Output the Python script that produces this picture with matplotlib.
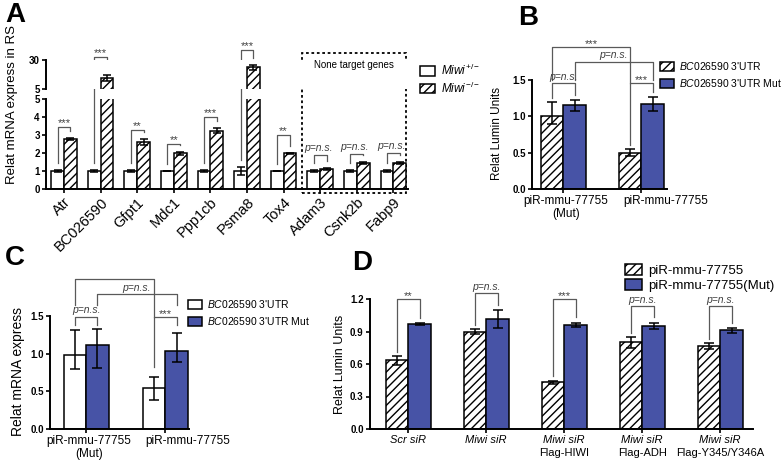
import numpy as np
import matplotlib
matplotlib.use("Agg")
import matplotlib.pyplot as plt
import matplotlib.transforms as mtrans
from matplotlib.patches import Patch, Rectangle

plt.rcParams["font.family"] = ["Liberation Sans", "DejaVu Sans"]
plt.rcParams["mathtext.fontset"] = "custom"
plt.rcParams["mathtext.rm"] = "Liberation Sans"
plt.rcParams["mathtext.it"] = "Liberation Sans:italic"
plt.rcParams["hatch.linewidth"] = 1.0

BLUE = "#4753a6"
GREY = "0.35"
HATCH = "////"

# ---- panel A data
genes = ["Atr", "BC026590", "Gfpt1", "Mdc1", "Ppp1cb", "Psma8", "Tox4",
         "Adam3", "Csnk2b", "Fabp9"]
het = [1.0, 1.0, 1.0, 1.0, 1.0, 1.0, 1.0, 1.0, 1.0, 1.0]
het_err = [0.03, 0.06, 0.06, 0.02, 0.06, 0.22, 0.02, 0.03, 0.03, 0.03]
ko = [2.8, 14.5, 2.62, 1.98, 3.25, 23.8, 1.98, 1.1, 1.45, 1.45]
ko_err = [0.05, 2.5, 0.18, 0.1, 0.12, 2.0, 0.02, 0.05, 0.04, 0.06]
sig_a = ["***", "***", "**", "**", "***", "***", "**",
         "p=n.s.", "p=n.s.", "p=n.s."]
top_a = [3.45, 32.6, 3.3, 2.5, 4.0, 38.5, 3.0, 1.9, 1.93, 1.98]

# ---- panel B data
b_groups = ["piR-mmu-77755\n(Mut)", "piR-mmu-77755"]
b_utr = [1.0, 0.5]
b_utr_err = [[0.11, 0.05], [0.2, 0.05]]
b_mut = [1.16, 1.17]
b_mut_err = [[0.09, 0.1], [0.07, 0.1]]

# ---- panel C data
c_groups = ["piR-mmu-77755\n(Mut)", "piR-mmu-77755"]
c_utr = [0.98, 0.55]
c_utr_err = [[0.19, 0.16], [0.33, 0.14]]
c_mut = [1.12, 1.03]
c_mut_err = [[0.31, 0.14], [0.21, 0.25]]

# ---- panel D data
d_first = ["Scr siR", "Miwi siR", "Miwi siR", "Miwi siR", "Miwi siR"]
d_second = ["", "", "Flag-HIWI", "Flag-ADH", "Flag-Y345/Y346A"]
d_wt = [0.635, 0.9, 0.43, 0.80, 0.765]
d_wt_err = [0.04, 0.02, 0.015, 0.05, 0.025]
d_mut = [0.967, 1.015, 0.96, 0.95, 0.91]
d_mut_err = [0.007, 0.08, 0.02, 0.03, 0.02]
sig_d = ["**", "p=n.s.", "***", "p=n.s.", "p=n.s."]
top_d = [1.20, 1.255, 1.20, 1.135, 1.135]

W, H = 784, 462
fig = plt.figure(figsize=(W / 100, H / 100), dpi=100)


def px_axes(l, t, r, b):
    return fig.add_axes([l / W, 1 - b / H, (r - l) / W, (b - t) / H])


def style(ax, ysize=7):
    for s in ["top", "right"]:
        ax.spines[s].set_visible(False)
    for s in ["left", "bottom"]:
        ax.spines[s].set_linewidth(1.4)
    ax.tick_params(width=1.2, length=3, pad=1.5)
    ax.tick_params(axis="y", labelsize=ysize)
    plt.setp(ax.get_yticklabels(), fontweight="bold")


def shift_labels(ax, offsets):
    # nudge tick labels sideways (pixels), as the original layout does
    for lab, dx in zip(ax.get_xticklabels(), offsets):
        lab.set_transform(lab.get_transform() +
                          mtrans.ScaledTranslation(dx / 100, 0, fig.dpi_scale_trans))


def bracket(ax, x1, x2, top, b1, b2, label=None, fs=7.5):
    ax.plot([x1, x1, x2, x2], [b1, top, top, b2], color=GREY, lw=0.9,
            clip_on=False)
    if label:
        italic = label.startswith("p")
        ax.annotate(label, ((x1 + x2) / 2, top), xytext=(0, 1 if italic else -1.5),
                    textcoords="offset points", ha="center", va="bottom",
                    fontsize=fs if italic else fs + 0.5,
                    fontstyle="italic" if italic else "normal",
                    color="0.25", annotation_clip=False)


def pair_bars(ax, x, v1, e1, v2, e2, w, first_hatched, bar_lw=1.1):
    ax.bar(x - w / 2, v1, w, color="white", edgecolor="k", lw=bar_lw,
           hatch=HATCH if first_hatched else None, zorder=2)
    ax.bar(x + w / 2, v2, w, color=BLUE, edgecolor="k", lw=bar_lw, zorder=2)
    ax.errorbar(x - w / 2, v1, yerr=e1, fmt="none", ecolor="k", elinewidth=1.1,
                capsize=3.5, capthick=1.1, zorder=3)
    ax.errorbar(x + w / 2, v2, yerr=e2, fmt="none", ecolor="k", elinewidth=1.1,
                capsize=3.5, capthick=1.1, zorder=3)


# ================= Panel A (broken axis)
xa = np.arange(len(genes))
wa = 0.35
axA_lo = px_axes(46, 99, 408, 189)
axA_hi = px_axes(46, 60, 408, 89)
for ax, lim in [(axA_lo, (0, 5)), (axA_hi, (5, 30))]:
    ax.bar(xa - wa / 2, het, wa, color="white", edgecolor="k", lw=1.1, zorder=2)
    ax.bar(xa + wa / 2, ko, wa, color="white", edgecolor="k", lw=1.1,
           hatch=HATCH, zorder=2)
    ax.errorbar(xa - wa / 2, het, yerr=het_err, fmt="none", ecolor="k",
                elinewidth=1.1, capsize=3, capthick=1.1, zorder=3)
    ax.errorbar(xa + wa / 2, ko, yerr=ko_err, fmt="none", ecolor="k",
                elinewidth=1.1, capsize=3, capthick=1.1, zorder=3)
    ax.set_xlim(-0.49, 9.4)
    ax.set_ylim(*lim)
axA_lo.set_yticks(range(0, 6))
axA_lo.set_xticks(xa)
axA_lo.set_xticklabels(genes, rotation=45, ha="right", rotation_mode="anchor",
                       fontsize=10.5)
style(axA_lo)
axA_hi.set_yticks([5, 30])
axA_hi.set_xticks([])
style(axA_hi)
axA_hi.spines["bottom"].set_visible(False)


def a_fig_y(v):
    ax = axA_hi if v > 5 else axA_lo
    lo, hi = ax.get_ylim()
    pos = ax.get_position()
    return pos.y0 + (v - lo) / (hi - lo) * pos.height


tr_a = mtrans.blended_transform_factory(axA_lo.transData, fig.transFigure)
gap = 7 / H
for i in range(len(genes)):
    x1, x2 = xa[i] - wa / 2, xa[i] + wa / 2
    yt = a_fig_y(top_a[i])
    y1 = a_fig_y(het[i] + het_err[i]) + gap
    y2 = a_fig_y(ko[i] + ko_err[i]) + gap
    axA_lo.plot([x1, x1, x2, x2], [y1, yt, yt, y2], color=GREY, lw=0.9,
                transform=tr_a, clip_on=False)
    italic = sig_a[i].startswith("p")
    axA_lo.text((x1 + x2) / 2 - (0.05 if italic else 0),
                yt + (2 / H if italic else -1 / H), sig_a[i], transform=tr_a,
                ha="center", va="bottom", fontsize=7.5 if italic else 8,
                fontstyle="italic" if italic else "normal", color="0.25")

axA_lo.add_patch(Rectangle((6.5, 1 - 193 / H), 2.84, 140 / H, transform=tr_a,
                           fill=False, ls=(0, (1.5, 1.5)), lw=1.3, ec="k",
                           clip_on=False))
fig.text(354 / W, 1 - 65 / H, "None target genes",
         ha="center", va="center", fontsize=7)
fig.text(12 / W, 1 - 105 / H, "Relat mRNA express in RS", rotation=90,
         ha="center", va="center", fontsize=9.5)
fig.legend([Patch(fc="white", ec="k", lw=1.1),
            Patch(fc="white", ec="k", lw=1.1, hatch=HATCH)],
           [r"$\it{Miwi}^{+/-}$", r"$\it{Miwi}^{-/-}$"],
           loc="upper left", bbox_to_anchor=(414 / W, 1 - 57 / H),
           frameon=False, fontsize=8.5, handlelength=1.3, handleheight=0.9,
           handletextpad=0.5, labelspacing=0.2, borderpad=0)

# ================= Panel B
xb = np.arange(len(b_groups))
wb = 0.29
axB = px_axes(532, 80, 667, 189)
pair_bars(axB, xb, b_utr, b_utr_err, b_mut, b_mut_err, wb, True)
axB.set_xlim(-0.4, 1.33)
axB.set_ylim(0, 1.5)
axB.set_yticks([0, 0.5, 1.0, 1.5])
axB.set_xticks(xb)
axB.set_xticklabels(b_groups, fontsize=8.5, linespacing=1.05)
style(axB)
shift_labels(axB, [3, 24])
bracket(axB, -wb / 2, wb / 2, 1.46, 1.25, 1.3, "p=n.s.")
bracket(axB, 1 - wb / 2, 1 + wb / 2, 1.46, 0.6, 1.33, "***")
bracket(axB, -wb / 2, 1 - wb / 2, 1.96, 1.5, 1.46, "***")
bracket(axB, wb / 2, 1 + wb / 2, 1.75, 1.5, 1.5, "p=n.s.")
fig.text(497 / W, 1 - 133 / H, "Relat Lumin Units", rotation=90,
         ha="center", va="center", fontsize=8.5)
fig.legend([Patch(fc="white", ec="k", lw=1.1, hatch=HATCH),
            Patch(fc=BLUE, ec="k", lw=1.1)],
           [r"$\it{BC026590}$ 3'UTR", r"$\it{BC026590}$ 3'UTR Mut"],
           loc="upper left", bbox_to_anchor=(655 / W, 1 - 55 / H),
           frameon=False, fontsize=7.5, handlelength=1.3, handleheight=0.9,
           handletextpad=0.5, labelspacing=0.45, borderpad=0)

# ================= Panel C
xc = np.arange(len(c_groups))
wc = 0.285
axC = px_axes(50, 316, 189, 429)
pair_bars(axC, xc, c_utr, c_utr_err, c_mut, c_mut_err, wc, False)
axC.set_xlim(-0.456, 1.3)
axC.set_ylim(0, 1.5)
axC.set_yticks([0, 0.5, 1.0, 1.5])
axC.set_xticks(xc)
axC.set_xticklabels(c_groups, fontsize=8.5, linespacing=1.05)
style(axC)
shift_labels(axC, [3, 22])
bracket(axC, -wc / 2, wc / 2, 1.49, 1.38, 1.38, "p=n.s.")
bracket(axC, 1 - wc / 2, 1 + wc / 2, 1.49, 0.82, 1.38, "***")
bracket(axC, -wc / 2, 1 - wc / 2, 1.99, 1.65, 1.49)
bracket(axC, wc / 2, 1 + wc / 2, 1.79, 1.65, 1.65, "p=n.s.")
fig.text(18 / W, 1 - 371 / H, "Relat mRNA express", rotation=90,
         ha="center", va="center", fontsize=10)
fig.legend([Patch(fc="white", ec="k", lw=1.1),
            Patch(fc=BLUE, ec="k", lw=1.1)],
           [r"$\it{BC026590}$ 3'UTR", r"$\it{BC026590}$ 3'UTR Mut"],
           loc="upper left", bbox_to_anchor=(183 / W, 1 - 293 / H),
           frameon=False, fontsize=7.5, handlelength=1.3, handleheight=0.9,
           handletextpad=0.5, labelspacing=0.45, borderpad=0)

# ================= Panel D
xd = np.arange(len(d_first))
wd = 0.29
axD = px_axes(370, 299, 753, 429)
pair_bars(axD, xd, d_wt, d_wt_err, d_mut, d_mut_err, wd, True)
axD.set_xlim(-0.49, 4.42)
axD.set_ylim(0, 1.2)
axD.set_yticks([0, 0.3, 0.6, 0.9, 1.2])
axD.set_xticks(xd)
axD.set_xticklabels(d_first, fontsize=8, fontstyle="italic")
style(axD)
for i, lab in enumerate(d_second):
    if lab:
        axD.annotate(lab, (xd[i], 0), xycoords=("data", "axes fraction"),
                     xytext=(0, -14), textcoords="offset points", ha="center",
                     va="top", fontsize=8)
for i in range(len(d_first)):
    x1, x2 = xd[i] - wd / 2, xd[i] + wd / 2
    bracket(axD, x1, x2, top_d[i], d_wt[i] + d_wt_err[i] + 0.04,
            d_mut[i] + d_mut_err[i] + 0.05, sig_d[i])
fig.text(340 / W, 1 - 364 / H, "Relat Lumin Units", rotation=90,
         ha="center", va="center", fontsize=9)
fig.legend([Patch(fc="white", ec="k", lw=1.1, hatch=HATCH),
            Patch(fc=BLUE, ec="k", lw=1.1)],
           ["piR-mmu-77755", "piR-mmu-77755(Mut)"],
           loc="upper left", bbox_to_anchor=(618 / W, 1 - 257 / H),
           frameon=False, fontsize=9.5, handlelength=1.3, handleheight=0.9,
           handletextpad=0.5, labelspacing=0.15, borderpad=0)

# ---- panel letters
for lab, x, y in [("A", 5, 2), ("B", 518, 5), ("C", 5, 245), ("D", 352, 250)]:
    fig.text(x / W, 1 - y / H, lab, fontsize=20, fontweight="bold", va="top")

fig.savefig("out.png", dpi=100)
